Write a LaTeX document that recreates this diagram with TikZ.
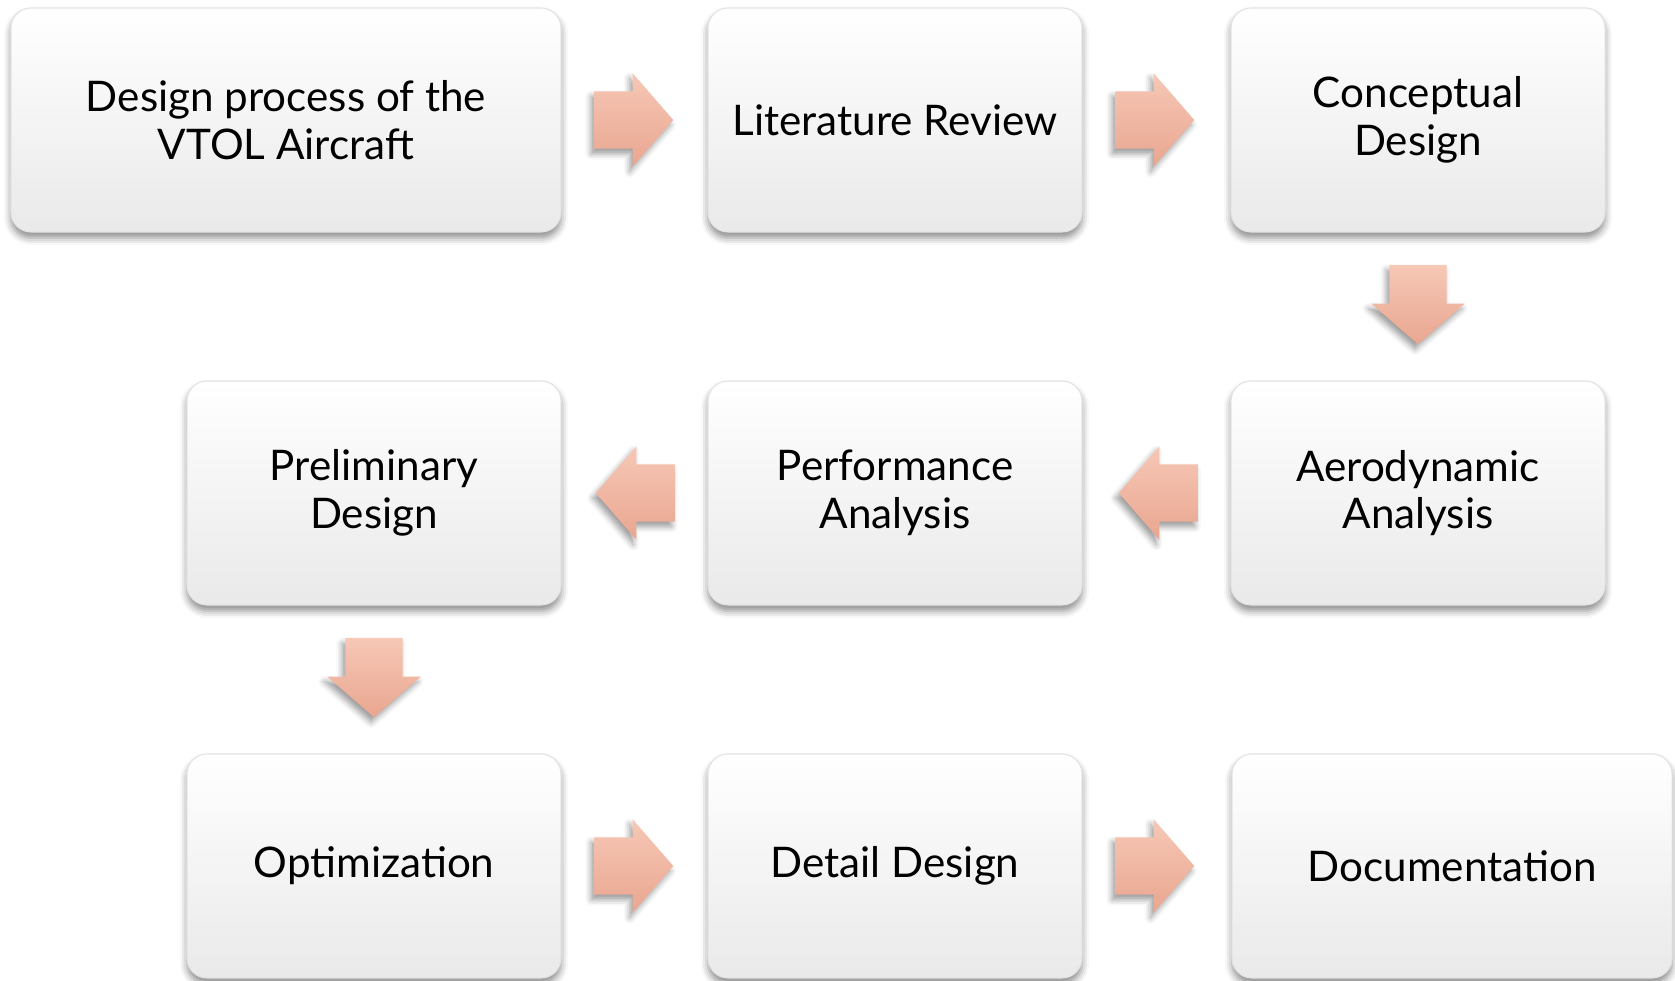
\documentclass[tikz,border=0pt]{standalone}
\usepackage{fontspec}
\setmainfont{Lato}
\usetikzlibrary{shapes.arrows,shadows.blur,calc}
\definecolor{salmontop}{HTML}{F6C8B6}
\definecolor{salmonbot}{HTML}{E9A690}
\begin{document}
\begin{tikzpicture}[line join=round,font=\fontsize{12}{13.6}\selectfont,
box/.style={rounded corners=.2cm,draw=gray!22,line width=.3pt,minimum width=3.74cm,minimum height=2.24cm,align=center,
 top color=white,middle color=white,bottom color=gray!17,
 blur shadow={shadow xshift=0pt,shadow yshift=-.6mm,shadow blur radius=.7mm,shadow opacity=45}},
blockarrow/.style={single arrow,minimum height=.79cm,single arrow head extend=.18cm,anchor=tail,
 single arrow tip angle=98,inner xsep=0pt,inner ysep=.28cm,top color=salmontop,bottom color=salmonbot,
 blur shadow={shadow xshift=-.3mm,shadow yshift=-.5mm,shadow blur radius=.6mm,shadow opacity=40}},
downarrow/.style={blockarrow,shape border rotate=270,inner xsep=.28cm,inner ysep=0pt},
leftarrow/.style={blockarrow,shape border rotate=180}]
\useasboundingbox (0,0) rectangle (16.75,9.8);
% first row
\node[box,minimum width=5.5cm] (start) at (2.86,8.6) {Design process of the\\VTOL Aircraft};
\node[box] (lit) at (8.95,8.6) {Literature Review};
\node[box] (concept) at (14.18,8.6) {Conceptual\\Design};
% second row, right to left
\node[box] (aero) at (14.18,4.87) {Aerodynamic\\Analysis};
\node[box] (perf) at (8.95,4.87) {Performance\\Analysis};
\node[box] (prelim) at (3.74,4.87) {Preliminary\\Design};
% third row
\node[box] (optim) at (3.74,1.14) {Optimization};
\node[box] (detail) at (8.95,1.14) {Detail Design};
\node[box,minimum width=4.4cm] (doc) at (14.52,1.14) {Documentation};
% arrows between the steps, tail .32cm off the box they leave
\node[blockarrow] (a1) at ($(start.east)+(.32,0)$) {};
\node[blockarrow] (a2) at ($(lit.east)+(.32,0)$) {};
\node[downarrow] (a3) at ($(concept.south)+(0,-.32)$) {};
\node[leftarrow] (a4) at ($(aero.west)+(-.32,0)$) {};
\node[leftarrow] (a5) at ($(perf.west)+(-.32,0)$) {};
\node[downarrow] (a6) at ($(prelim.south)+(0,-.32)$) {};
\node[blockarrow] (a7) at ($(optim.east)+(.32,0)$) {};
\node[blockarrow] (a8) at ($(detail.east)+(.32,0)$) {};
\end{tikzpicture}
\end{document}
